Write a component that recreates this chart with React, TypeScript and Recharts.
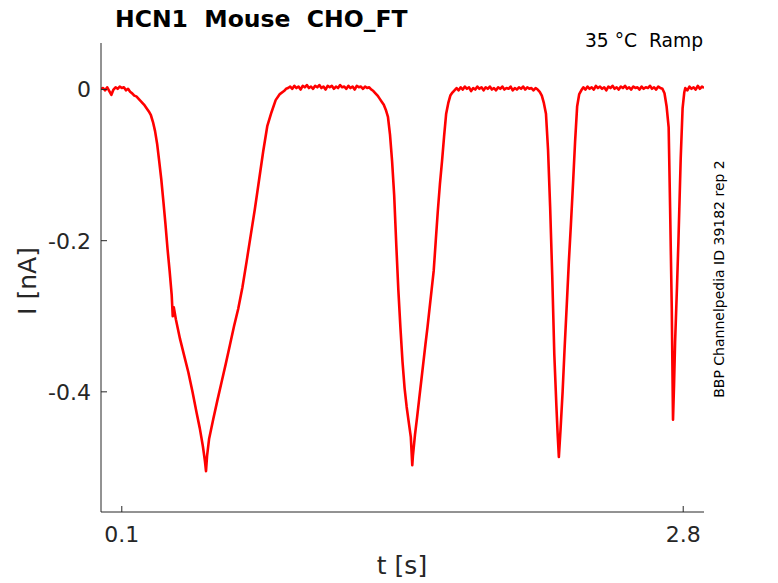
import { LineChart, Line, XAxis, YAxis } from 'recharts'

// time [s] / current [nA] pairs
const baselineStart: [number, number][] = [
  [0.00, 0.001], [0.01, 0.002], [0.02, -0.001], [0.03, 0.003], [0.04, -0.002], [0.05, -0.007],
  [0.06, 0.000], [0.07, 0.003], [0.08, 0.001], [0.09, 0.004], [0.10, 0.002], [0.11, 0.003],
  [0.12, -0.001], [0.13, 0.001], [0.14, -0.003],
]

const dip1: [number, number][] = [
  [0.15, -0.005], [0.16, -0.008], [0.17, -0.009], [0.18, -0.012], [0.19, -0.015], [0.20, -0.018],
  [0.21, -0.021], [0.22, -0.025], [0.23, -0.029], [0.24, -0.034], [0.25, -0.043], [0.26, -0.055],
  [0.27, -0.072], [0.28, -0.095], [0.29, -0.119], [0.30, -0.148], [0.31, -0.178], [0.32, -0.211],
  [0.33, -0.240], [0.34, -0.272], [0.345, -0.300], [0.35, -0.288], [0.36, -0.304], [0.38, -0.330],
  [0.40, -0.352], [0.42, -0.374], [0.44, -0.400], [0.46, -0.428], [0.475, -0.448], [0.49, -0.472],
  [0.50, -0.492], [0.505, -0.505], [0.51, -0.485], [0.52, -0.462], [0.54, -0.436], [0.56, -0.411],
  [0.58, -0.387], [0.60, -0.363], [0.62, -0.338], [0.64, -0.313], [0.66, -0.290], [0.68, -0.262],
  [0.70, -0.228], [0.72, -0.193], [0.74, -0.158], [0.76, -0.120], [0.78, -0.082], [0.80, -0.048],
  [0.82, -0.030], [0.84, -0.014], [0.86, -0.006], [0.88, -0.002],
]

const flat1: [number, number][] = [
  [0.89, 0.001], [0.90, 0.002], [0.91, 0.004], [0.92, 0.001], [0.93, 0.005], [0.94, 0.002],
  [0.95, 0.004], [0.96, 0.000], [0.97, 0.005], [0.98, 0.003], [0.99, 0.006], [1.00, 0.002],
  [1.01, 0.004], [1.02, 0.001], [1.03, 0.005], [1.04, 0.003], [1.05, 0.006], [1.06, 0.002],
  [1.07, 0.004], [1.08, 0.000], [1.09, 0.005], [1.10, 0.003], [1.11, 0.005], [1.12, 0.001],
  [1.13, 0.004], [1.14, 0.002], [1.15, 0.006], [1.16, 0.003], [1.17, 0.004], [1.18, 0.001],
  [1.19, 0.005], [1.20, 0.002], [1.21, 0.004], [1.22, 0.000], [1.23, 0.005], [1.24, 0.003],
  [1.25, 0.004], [1.26, 0.001], [1.27, 0.004], [1.28, 0.002], [1.29, 0.003], [1.30, 0.000],
]

const dip2: [number, number][] = [
  [1.31, -0.002], [1.32, -0.005], [1.33, -0.008], [1.34, -0.012], [1.35, -0.016], [1.36, -0.020],
  [1.37, -0.027], [1.38, -0.036], [1.39, -0.060], [1.40, -0.095], [1.41, -0.140], [1.42, -0.205],
  [1.43, -0.265], [1.44, -0.315], [1.45, -0.360], [1.46, -0.395], [1.47, -0.420], [1.48, -0.440],
  [1.49, -0.460], [1.497, -0.497], [1.50, -0.485], [1.51, -0.457], [1.52, -0.434], [1.53, -0.410],
  [1.54, -0.386], [1.55, -0.362], [1.56, -0.338], [1.57, -0.315], [1.58, -0.290], [1.59, -0.265],
  [1.60, -0.240], [1.61, -0.200], [1.62, -0.160], [1.63, -0.125], [1.64, -0.095], [1.65, -0.062],
  [1.66, -0.032], [1.67, -0.018], [1.68, -0.008], [1.69, -0.004], [1.70, -0.001],
]

const flat2: [number, number][] = [
  [1.71, 0.002], [1.72, -0.001], [1.73, 0.003], [1.74, 0.000], [1.75, 0.004], [1.76, 0.001],
  [1.77, 0.003], [1.78, -0.002], [1.79, 0.002], [1.80, 0.000], [1.81, 0.004], [1.82, 0.001],
  [1.83, 0.003], [1.84, -0.001], [1.85, 0.003], [1.86, 0.001], [1.87, 0.004], [1.88, 0.000],
  [1.89, 0.002], [1.90, -0.001], [1.91, 0.003], [1.92, 0.001], [1.93, 0.004], [1.94, 0.000],
  [1.95, 0.002], [1.96, 0.001], [1.97, 0.004], [1.98, -0.001], [1.99, 0.002], [2.00, 0.000],
  [2.01, 0.003], [2.02, 0.001], [2.03, 0.004], [2.04, 0.000], [2.05, 0.003], [2.06, 0.001],
  [2.07, 0.002], [2.08, -0.001], [2.09, 0.002], [2.10, 0.000],
]

const dip3: [number, number][] = [
  [2.11, -0.003], [2.12, -0.008], [2.13, -0.018], [2.14, -0.032], [2.15, -0.080], [2.16, -0.155],
  [2.17, -0.245], [2.18, -0.350], [2.19, -0.418], [2.196, -0.455], [2.202, -0.486], [2.21, -0.450],
  [2.22, -0.400], [2.23, -0.340], [2.24, -0.285], [2.25, -0.228], [2.26, -0.178], [2.27, -0.125],
  [2.28, -0.069], [2.29, -0.022], [2.30, -0.006], [2.31, -0.001],
]

const flat3: [number, number][] = [
  [2.32, 0.003], [2.33, 0.000], [2.34, 0.004], [2.35, 0.001], [2.36, 0.003], [2.37, 0.000],
  [2.38, 0.005], [2.39, 0.002], [2.40, 0.004], [2.41, 0.001], [2.42, 0.003], [2.43, -0.001],
  [2.44, 0.004], [2.45, 0.002], [2.46, 0.005], [2.47, 0.001], [2.48, 0.003], [2.49, 0.000],
  [2.50, 0.004], [2.51, 0.002], [2.52, 0.005], [2.53, 0.001], [2.54, 0.003], [2.55, 0.000],
  [2.56, 0.004], [2.57, 0.002], [2.58, 0.003], [2.59, 0.000], [2.60, 0.004], [2.61, 0.001],
  [2.62, 0.003], [2.63, 0.002], [2.64, 0.005], [2.65, 0.001], [2.66, 0.003], [2.67, 0.000],
  [2.68, 0.004], [2.69, 0.002], [2.70, 0.001],
]

const dip4: [number, number][] = [
  [2.71, -0.005], [2.72, -0.022], [2.73, -0.050], [2.737, -0.157], [2.745, -0.290], [2.751, -0.437],
  [2.756, -0.390], [2.761, -0.334], [2.77, -0.262], [2.777, -0.201], [2.788, -0.091], [2.797, -0.025],
  [2.805, -0.004],
]

const baselineEnd: [number, number][] = [
  [2.81, 0.002], [2.82, -0.001], [2.83, 0.004], [2.84, 0.001], [2.85, 0.003], [2.86, 0.000],
  [2.87, 0.005], [2.88, 0.001], [2.89, 0.004], [2.90, 0.002],
]

const xTicks = [0.1, 2.8]
const yTicks = [-0.4, -0.2, 0]

const trace = [...baselineStart, ...dip1, ...flat1, ...dip2, ...flat2, ...dip3, ...flat3, ...dip4, ...baselineEnd]
  .map(([t, i]) => ({ t, i }))

const FONT = '"DejaVu Sans", sans-serif'
const INK = '#262626'

export default function App() {
  return (
    <div style={{ position: 'absolute', left: 0, top: 0, width: 778, height: 583, background: '#fff' }}>
      <LineChart width={778} height={583} data={trace} margin={{ top: 43, right: 74, left: 21, bottom: 31 }}>
        <XAxis
          dataKey="t" type="number" domain={[0, 2.9]} allowDataOverflow ticks={xTicks} height={40}
          tickSize={-6} tickMargin={20} stroke={INK} tickFormatter={(v: number) => String(v)}
          tick={{ fontSize: 22, fill: INK, fontFamily: FONT }}
        />
        <YAxis
          type="number" domain={[-0.559, 0.0616]} allowDataOverflow ticks={yTicks} width={80}
          tickSize={-6} tickMargin={16} stroke={INK} tickFormatter={(v: number) => String(v)}
          tick={{ fontSize: 22, fill: INK, fontFamily: FONT }}
        />
        <Line type="linear" dataKey="i" stroke="#ff0000" strokeWidth={2.6} strokeLinejoin="round" dot={false} isAnimationActive={false} />
      </LineChart>
      <svg width={778} height={583} style={{ position: 'absolute', left: 0, top: 0, pointerEvents: 'none' }}>
        <text x={115} y={27} fontFamily={FONT} fontWeight="bold" fontSize={23.5} fill="#000" style={{ whiteSpace: 'pre' }}>
          HCN1  Mouse  CHO_FT
        </text>
        <text x={703} y={47} textAnchor="end" fontFamily={FONT} fontSize={18.7} fill="#000" style={{ whiteSpace: 'pre' }}>
          35 °C  Ramp
        </text>
        <text x={402} y={574} textAnchor="middle" fontFamily={FONT} fontSize={25} fill={INK}>t [s]</text>
        <text transform="translate(36,281) rotate(-90)" textAnchor="middle" fontFamily={FONT} fontSize={25} fill={INK}>
          I [nA]
        </text>
        <text transform="translate(724,279) rotate(-90)" textAnchor="middle" fontFamily={FONT} fontSize={14} fill="#000">
          BBP Channelpedia ID 39182 rep 2
        </text>
      </svg>
    </div>
  )
}
